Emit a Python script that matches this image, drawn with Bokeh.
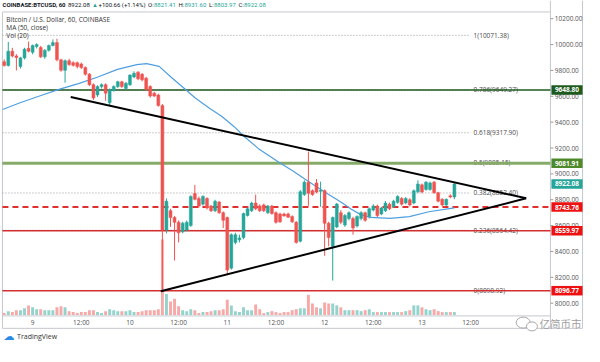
from bokeh.plotting import figure
from bokeh.models import ColumnDataSource, Range1d
from bokeh.embed import file_html
from bokeh.resources import INLINE
from bokeh.core.properties import value

# ---------------- data (hourly candles, hour 0 = day 9 00:00) ----------------
hours = list(range(-7, 105))
opens = [9867, 9838, 9949, 9912, 9830, 9897, 9971, 9940, 9985, 9978, 9905, 9956, 9993, 10015,
         9882, 9801, 9875, 9860, 9860, 9850, 9823, 9771, 9690, 9610, 9675, 9690, 9550, 9645,
         9675, 9712, 9660, 9690, 9749, 9786, 9770, 9740, 9675, 9624, 9610,
         9528, 8567, 8715, 8663, 8626, 8552, 8567, 8600, 8848, 8810, 8766, 8810, 8752, 8715,
         8782, 8700, 8663, 8271, 8470, 8490, 8508, 8678, 8715, 8774, 8752, 8760, 8700, 8752,
         8700, 8690, 8690, 8690, 8670, 8626, 8480, 8840, 8936,
         8870, 8930, 8865, 8870, 8618, 8440, 8590, 8700, 8604, 8655, 8655, 8597, 8655, 8700,
         8670, 8720, 8752, 8690, 8715, 8766, 8745, 8780, 8810, 8775, 8800, 8775, 8862, 8915,
         8880, 8880, 8936, 8855, 8803, 8760, 8830, 8821.41]
highs = [9885, 10020, 9975, 9925, 9905, 9975, 10023, 10000, 10010, 9990, 9965, 10000, 10040, 10045,
         9890, 9885, 9890, 9870, 9868, 9860, 9830, 9780, 9700, 9685, 9700, 9700, 9660, 9685,
         9720, 9720, 9710, 9770, 9793, 9795, 9780, 9750, 9685, 9635, 9620,
         9540, 8810, 8730, 8675, 8640, 8630, 8640, 8835, 8914, 8825, 8835, 8820, 8760, 8800,
         8790, 8710, 8670, 8540, 8545, 8530, 8700, 8740, 8785, 8840, 8765, 8770, 8760, 8760,
         8710, 8700, 8700, 8700, 8680, 8635, 8875, 8950, 9173,
         8880, 8960, 8940, 8880, 8630, 8670, 8775, 8720, 8690, 8710, 8668, 8680, 8712, 8708,
         8740, 8765, 8762, 8745, 8790, 8778, 8800, 8835, 8820, 8820, 8812, 8880, 8950, 8925,
         8945, 8940, 8945, 8862, 8812, 8810, 8842, 8931.60]
lows = [9830, 9830, 9900, 9800, 9815, 9885, 9940, 9925, 9970, 9895, 9890, 9945, 9985, 9870,
        9790, 9705, 9835, 9830, 9815, 9810, 9760, 9680, 9572, 9595, 9660, 9565, 9528, 9635,
        9665, 9665, 9650, 9680, 9740, 9725, 9715, 9640, 9590, 9595, 9520,
        8100, 8540, 8590, 8330, 8470, 8540, 8555, 8590, 8795, 8740, 8755, 8725, 8705, 8705,
        8690, 8581, 8219, 8260, 8455, 8470, 8495, 8670, 8705, 8720, 8705, 8705, 8690, 8685,
        8615, 8620, 8670, 8660, 8620, 8460, 8470, 8830, 8752,
        8830, 8850, 8745, 8367, 8440, 8175, 8580, 8610, 8590, 8640, 8530, 8585, 8640, 8630,
        8655, 8710, 8665, 8680, 8705, 8720, 8735, 8770, 8755, 8765, 8748, 8765, 8850, 8850,
        8870, 8870, 8845, 8780, 8750, 8750, 8812, 8803.97]
closes = [9838, 9949, 9912, 9900, 9897, 9964, 9949, 9993, 10000, 9905, 9956, 9993, 10015, 9882,
          9801, 9875, 9845, 9840, 9830, 9823, 9771, 9690, 9587, 9675, 9690, 9624, 9653, 9675,
          9712, 9675, 9700, 9764, 9778, 9735, 9727, 9653, 9602, 9602, 9528,
          8567, 8789, 8663, 8626, 8545, 8619, 8626, 8825, 8803, 8752, 8825, 8737, 8715, 8789,
          8700, 8641, 8256, 8530, 8530, 8505, 8693, 8730, 8774, 8730, 8715, 8715, 8752, 8693,
          8626, 8630, 8675, 8665, 8630, 8470, 8862, 8936, 8850,
          8840, 8860, 8872, 8618, 8508, 8663, 8767, 8626, 8678, 8700, 8582, 8670, 8700, 8641,
          8730, 8752, 8678, 8737, 8774, 8730, 8789, 8825, 8766, 8810, 8760, 8870, 8922, 8860,
          8936, 8930, 8855, 8789, 8760, 8803, 8821, 8922.08]
volumes = [60, 120, 90, 150, 150, 210, 300, 240, 180, 180, 150, 150, 150, 240, 270, 240, 120, 90,
           60, 90, 90, 150, 150, 90, 60, 120, 180, 150, 120, 120, 120, 150, 90, 90, 120, 150, 150,
           150, 180,
           2370, 660, 420, 510, 270, 150, 120, 180, 150, 60, 90, 90, 120, 150, 150, 180, 480, 300,
           120, 90, 240, 150, 150, 330, 180, 60, 90, 120, 90, 60, 90, 90, 150, 180, 210, 210, 630,
           360, 240, 210, 390, 360, 360, 300, 240, 150, 150, 150, 150, 120, 150, 180, 90, 90, 90,
           90, 90, 90, 90, 90, 120, 150, 300, 300, 240, 180, 150, 180, 120, 90, 90, 90, 90]

ma_hours = [-7.4, -3.1, 1.7, 6.5, 11.3, 16.1, 20.9, 25.7, 28.1, 31.2, 34.1, 37.7, 40.1, 43.7, 46.6,
            49.7, 52.1, 55.7, 61.0, 64.1, 67.2, 70.1, 73.0, 76.1, 78.5, 80.9, 83.3, 88.1, 92.9,
            97.7, 104.0]
ma_values = [9498, 9550, 9602, 9653, 9698, 9749, 9808, 9845, 9853, 9831, 9749, 9653, 9587, 9505,
             9446, 9365, 9291, 9195, 9084, 9025, 8958, 8899, 8840, 8781, 8729, 8685, 8663, 8656,
             8670, 8707, 8737]

upper_trend_h = [9.4, 121.7]
upper_trend_p = [9594, 8811]
lower_trend_h = [31.6, 121.7]
lower_trend_p = [8092, 8811]

fib_ratios = ["1", "0.786", "0.618", "0.5", "0.382", "0.236", "0"]
fib_prices = [10071.38, 9649.27, 9317.90, 9085.15, 8852.40, 8564.42, 8098.92]

level_prices = [9648.80, 9081.91, 8743.76, 8559.97, 8096.77]
level_colors = ["#1d5a1d", "#86ab68", "#e0302e", "#d32f2f", "#d32f2f"]
level_widths = [1.5, 3, 2, 1.5, 1.5]
level_dashes = ["solid", "solid", "6 4", "solid", "solid"]
tag_colors = ["#1d5a1d", "#4e8a2a", "#ee1111", "#ee1111", "#ee1111"]
last_price = 8922.08

time_ticks = [0, 12, 24, 36, 48, 60, 72, 84, 96, 108]
time_labels = ["9", "12:00", "10", "12:00", "11", "12:00", "12", "12:00", "13", "12:00"]
price_ticks = [8000, 8200, 8400, 8600, 8800, 9000, 9200, 9400, 9600, 9800, 10000, 10200]

UP, DOWN = "#26a69a", "#ef5350"
UP_V, DOWN_V = "#93d3cc", "#f7a9a8"
TXT = "#4a4a4a"
FRAME = "#c4c7ce"


# layout helpers: positions on the original 600x362 screenshot -> data space
def hx(rx):
    return (rx - 33) / (100 / 24)


def py(ry):
    return 8000 + (316.7 - ry) / 0.1353


def cx(px):  # canvas pixel (584 wide) -> data x
    return hx(px * 600 / 584)


L_EDGE, R_EDGE = hx(2), hx(565)
T_EDGE, B_EDGE = py(12), py(330)

p = figure(width=584, height=346, x_range=Range1d(hx(0), hx(600)), y_range=Range1d(py(362), py(0)),
           output_backend="svg", toolbar_location=None, x_axis_location=None, y_axis_location=None,
           min_border_left=0, min_border_right=0, min_border_top=0, min_border_bottom=0)
p.background_fill_color = "white"
p.border_fill_color = "white"
p.outline_line_color = None
p.grid.visible = False
# volume pane: 30 units per screenshot pixel, base at screenshot y = 329
p.extra_y_ranges = {"vol": Range1d(-(362 - 329) * 30, 329 * 30)}

src = ColumnDataSource(dict(
    h=hours, o=opens, hi=highs, lo=lows, c=closes, v=volumes,
    top=[max(a, b) for a, b in zip(opens, closes)],
    bot=[min(a, b) for a, b in zip(opens, closes)],
    col=[UP if c >= o else DOWN for o, c in zip(opens, closes)],
    vcol=[UP_V if c >= o else DOWN_V for o, c in zip(opens, closes)],
))

# ---------- frame lines ----------
p.segment(x0=[L_EDGE, L_EDGE, R_EDGE, L_EDGE, L_EDGE, hx(598)],
          y0=[T_EDGE, T_EDGE, py(0), B_EDGE, py(343), py(0)],
          x1=[R_EDGE, L_EDGE, R_EDGE, R_EDGE, hx(598), hx(598)],
          y1=[T_EDGE, py(343), py(343), B_EDGE, py(343), py(343)],
          line_color=FRAME, line_width=1)

# volume
p.vbar(x="h", top="v", bottom=0, width=0.72, fill_color="vcol", line_color=None,
       y_range_name="vol", source=src)

# fib dotted lines + labels
n = len(fib_prices)
p.segment(x0=[L_EDGE] * n, y0=fib_prices, x1=[hx(483)] * n, y1=fib_prices,
          line_color="#9a9a9a", line_width=1, line_dash="1 2")
fib_texts = [f"{r}({v:.2f})" for r, v in zip(fib_ratios, fib_prices)]
p.text(x=[hx(486)] * n, y=fib_prices, text=fib_texts, text_font=value("Open Sans"),
       text_font_size="6.5px", text_color=TXT, text_baseline="middle", text_align="left")

# horizontal levels
for lp, lc, lw, ld in zip(level_prices, level_colors, level_widths, level_dashes):
    p.line([L_EDGE, R_EDGE], [lp, lp], line_color=lc, line_width=lw, line_dash=ld)

# MA
p.line(ma_hours, ma_values, line_color="#4f9fe0", line_width=1.2)

# candles
p.segment(x0="h", y0="lo", x1="h", y1="hi", line_color="col", line_width=1, source=src)
p.vbar(x="h", top="top", bottom="bot", width=0.72, fill_color="col", line_color="col",
       line_width=0.5, source=src)

# trend lines
p.line(upper_trend_h, upper_trend_p, line_color="black", line_width=2)
p.line(lower_trend_h, lower_trend_p, line_color="black", line_width=2)

# ---------- price scale (right) ----------
m = len(price_ticks)
p.segment(x0=[R_EDGE] * m, y0=price_ticks, x1=[hx(568)] * m, y1=price_ticks,
          line_color="#999999", line_width=1)
p.text(x=[hx(569.5)] * m, y=price_ticks, text=[f"{t:.2f}" for t in price_ticks],
       text_font=value("Open Sans"), text_font_size="6.5px", text_color="#555555",
       text_baseline="middle", text_align="left")

# price tags
tag_prices = level_prices + [last_price]
tag_fill = tag_colors + [UP]
p.rect(x=[hx(582)] * len(tag_prices), y=tag_prices, width=hx(598) - hx(566), height=9.5,
       height_units="screen", fill_color=tag_fill, line_color=None)
p.text(x=[hx(582)] * len(tag_prices), y=tag_prices, text=[f"{t:.2f}" for t in tag_prices],
       text_font=value("Open Sans"), text_font_size="6.5px", text_font_style="bold",
       text_color="white", text_baseline="middle", text_align="center")

# ---------- time scale (bottom) ----------
p.text(x=time_ticks, y=[py(337)] * len(time_ticks), text=time_labels,
       text_font=value("Open Sans"), text_font_size="6.5px", text_color="#555555",
       text_baseline="middle", text_align="center")

# ---------- header ----------
header_txt = ["COINBASE:BTCUSD, 60", "8922.08", "\u25b2", "+100.66 (+1.14%)",
              "O:", "8821.41", "H:", "8931.60", "L:", "8803.97", "C:", "8922.08"]
header_px = [2, 67.5, 91.5, 98, 147.5, 153.5, 178, 184, 208.5, 213.5, 238, 243.5]
header_col = ["#131722", "#131722", UP, "#131722", "#131722", UP, "#131722", UP,
              "#131722", UP, "#131722", UP]
header_sty = ["bold"] + ["normal"] * 11
for t, px, c, s in zip(header_txt, header_px, header_col, header_sty):
    p.text(x=[cx(px)], y=[py(4.5)], text=[t], text_font=value("Roboto"),
           text_font_size="6px", text_font_style=s, text_color=c,
           text_baseline="middle", text_align="left")

# legend texts
legend_txt = ["Bitcoin / U.S. Dollar, 60, COINBASE", "MA (50, close)", "Vol (20)"]
p.text(x=[hx(6)] * 3, y=[py(19.5), py(28), py(36.5)], text=legend_txt,
       text_font=value("Open Sans"), text_font_size="6.5px", text_color="#333333",
       text_baseline="middle", text_align="left")

# ---------- footer ----------
p.text(x=[hx(3)], y=[py(352)], text=["\u2601"], text_font=value("DejaVu Sans"),
       text_font_size="11px", text_color="#2a8ae6", text_baseline="middle", text_align="left")
p.text(x=[hx(17)], y=[py(352)], text=["TradingView"], text_font=value("Open Sans"),
       text_font_size="7px", text_color="#333333", text_baseline="middle", text_align="left")
p.ellipse(x=[hx(537), hx(546)], y=[py(337), py(341)], width=[14, 11], height=[11, 9],
          width_units="screen", height_units="screen", fill_color="white",
          line_color="#a8a8a8", line_width=1)
p.text(x=[cx(539)], y=[py(338)], text=["亿简币市"], text_font=value("Noto Sans CJK SC"),
       text_font_size="10.5px", text_color="#a0a0a0", text_baseline="middle", text_align="left")

open("out.html", "w").write(file_html(p, INLINE))
